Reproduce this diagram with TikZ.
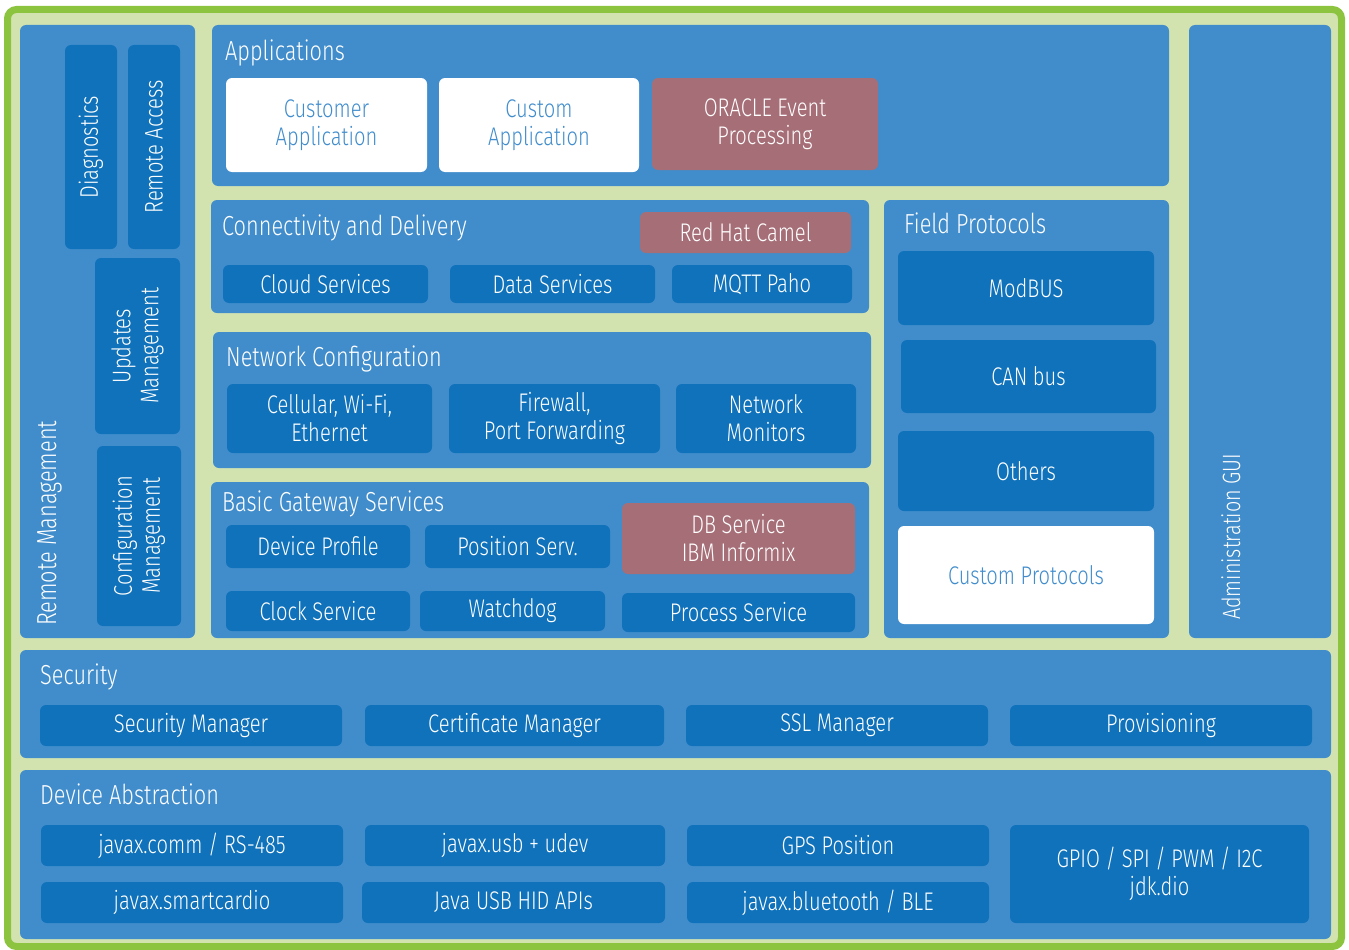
\documentclass[tikz,border=0pt]{standalone}
\usepackage{fontspec}
\setmainfont{Fira Sans}[UprightFont=* Light, FakeStretch=0.79]
\definecolor{outergreen}{HTML}{8CC43F}
\definecolor{palegreen}{HTML}{D3E3B0}
\definecolor{panelblue}{HTML}{418DCC}
\definecolor{boxblue}{HTML}{0F72BB}
\definecolor{oracle}{HTML}{A66F78}
\tikzset{
  panel/.style={fill=panelblue, rounded corners=6pt, inner sep=0pt, outer sep=0pt},
  box/.style={fill=boxblue, rounded corners=6pt, inner sep=0pt, outer sep=0pt, text=white, align=center, font=\fontsize{25.5}{28}\selectfont},
  redbox/.style={box, fill=oracle},
  whitebox/.style={box, fill=white, text=panelblue},
  title/.style={anchor=base west, inner sep=0pt, text=white, font=\fontsize{27.5}{30}\selectfont},
  sidetitle/.style={title, rotate=90, font=\fontsize{25}{28}\selectfont},
}
\newcommand\bx[7]{\node[#6, minimum width={#4-#2}, minimum height={#5-#3}] (#1) at ({(#2+#4)/2},{(#3+#5)/2}) {#7};}
\newcommand\rbx[7]{\node[#6, rotate=90, minimum width={#5-#3}, minimum height={#4-#2}] (#1) at ({(#2+#4)/2},{(#3+#5)/2}) {#7};}
\begin{document}
\begin{tikzpicture}[x=1pt,y=-1pt]
\useasboundingbox (0,0) rectangle (1349,950);
\draw[line width=7pt, draw=outergreen, fill=palegreen, rounded corners=9pt] (7.5,9.5) rectangle (1341.5,946.5);
% left remote management
\bx{rm}{20}{25}{195}{638}{panel}{}
\node[title, rotate=90] (rmt) at (56,626) {Remote Management};
\rbx{diag}{65}{45}{117}{249}{box}{Diagnostics}
\rbx{ra}{128}{45}{180}{249}{box}{Remote Access}
\rbx{upd}{95}{258}{180}{434}{box}{Updates\\Management}
\rbx{cfg}{97}{446}{181}{626}{box}{Configuration\\Management}
% applications
\bx{app}{212}{25}{1169}{186}{panel}{}
\node[title] (appt) at (225,61) {Applications};
\bx{capp}{226}{78}{427}{172}{whitebox}{Customer\\Application}
\bx{cusapp}{439}{78}{639}{172}{whitebox}{Custom\\Application}
\bx{orc}{652}{78}{878}{170}{redbox}{ORACLE Event\\Processing}
% connectivity
\bx{con}{211}{200}{869}{313}{panel}{}
\node[title] (cont) at (222,235) {Connectivity and Delivery};
\bx{camel}{640}{212}{851}{253}{redbox}{Red Hat Camel}
\bx{cloud}{223}{265}{428}{303}{box}{Cloud Services}
\bx{data}{450}{265}{655}{303}{box}{Data Services}
\bx{mqtt}{672}{265}{852}{303}{box}{MQTT Paho}
% network
\bx{net}{213}{332}{871}{468}{panel}{}
\node[title] (nett) at (226,366) {Network Configuration};
\bx{cell}{227}{384}{432}{453}{box}{Cellular, Wi-Fi,\\Ethernet}
\bx{fw}{449}{384}{660}{453}{box}{Firewall,\\Port Forwarding}
\bx{nmon}{676}{384}{856}{453}{box}{Network\\Monitors}
% basic gateway
\bx{bgs}{211}{482}{869}{638}{panel}{}
\node[title] (bgst) at (222,511) {Basic Gateway Services};
\bx{dprof}{226}{525}{410}{568}{box}{Device Profile}
\bx{pos}{425}{525}{610}{568}{box}{Position Serv.}
\bx{db}{622}{503}{855}{574}{redbox}{DB Service\\IBM Informix}
\bx{clock}{226}{591}{410}{631}{box}{Clock Service}
\bx{wd}{420}{591}{605}{631}{box}{Watchdog}
\bx{proc}{622}{593}{855}{632}{box}{Process Service}
% field protocols
\bx{fp}{884}{200}{1169}{638}{panel}{}
\node[title] (fpt) at (904,233) {Field Protocols};
\bx{modbus}{898}{251}{1154}{325}{box}{ModBUS}
\bx{can}{901}{340}{1156}{413}{box}{CAN bus}
\bx{oth}{898}{431}{1154}{511}{box}{Others}
\bx{cprot}{898}{526}{1154}{624}{whitebox}{Custom Protocols}
% admin gui
\bx{adm}{1189}{25}{1331}{638}{panel}{}
\node[sidetitle] (admt) at (1240,620) {Administration GUI};
% security
\bx{sec}{20}{650}{1331}{758}{panel}{}
\node[title] (sect) at (40,684) {Security};
\bx{secm}{40}{705}{342}{746}{box}{Security Manager}
\bx{cert}{365}{705}{664}{746}{box}{Certificate Manager}
\bx{ssl}{686}{705}{988}{746}{box}{SSL Manager}
\bx{prov}{1010}{705}{1312}{746}{box}{Provisioning}
% device abstraction
\bx{dev}{20}{770}{1331}{939}{panel}{}
\node[title] (devt) at (40,804) {Device Abstraction};
\bx{comm}{41}{825}{343}{866}{box}{javax.comm / RS-485}
\bx{usb}{365}{825}{665}{866}{box}{javax.usb + udev}
\bx{gps}{687}{825}{989}{866}{box}{GPS Position}
\bx{smart}{41}{882}{343}{923}{box}{javax.smartcardio}
\bx{hid}{362}{882}{665}{923}{box}{Java USB HID APIs}
\bx{ble}{687}{882}{989}{923}{box}{javax.bluetooth / BLE}
\bx{gpio}{1010}{825}{1309}{923}{box}{GPIO / SPI / PWM / I2C\\jdk.dio}
\end{tikzpicture}
\end{document}
